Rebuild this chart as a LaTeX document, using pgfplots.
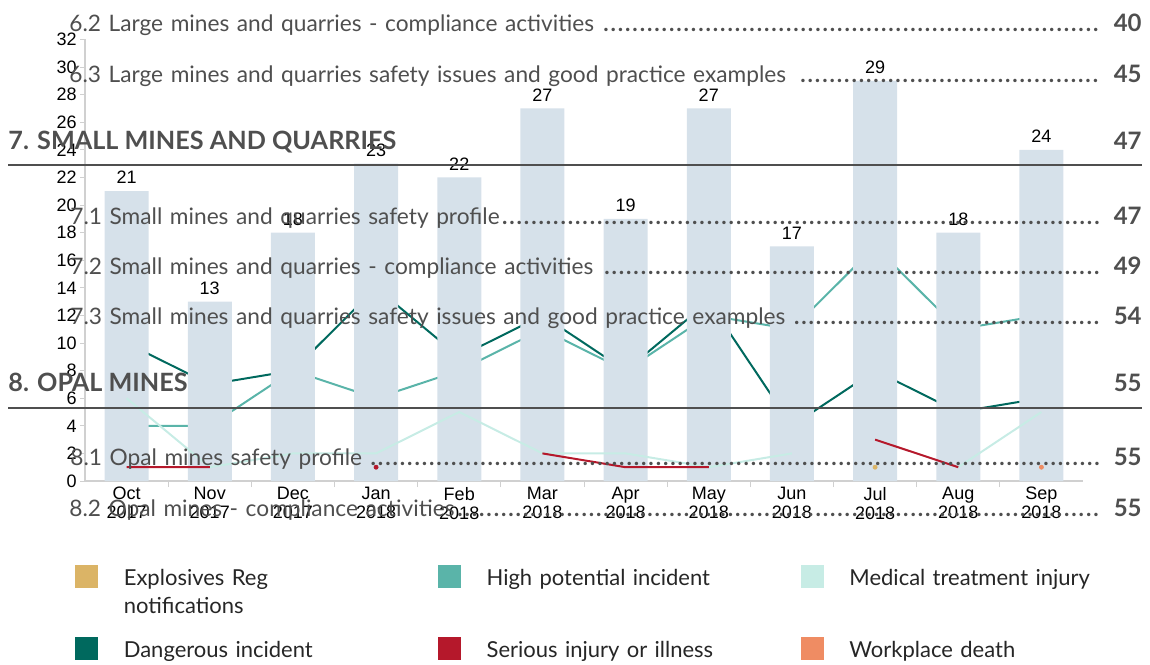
\documentclass[border=0pt]{standalone}
\usepackage{pgfplots}
\pgfplotsset{compat=1.18}
\usepackage{fontspec}
\setmainfont{Lato}
\newfontfamily\arial{Liberation Sans}
\definecolor{barc}{HTML}{D6E1EA}
\definecolor{dang}{HTML}{00695E}
\definecolor{highp}{HTML}{5AB4A9}
\definecolor{medic}{HTML}{C7ECE5}
\definecolor{serious}{HTML}{B5182B}
\definecolor{explo}{HTML}{DBB466}
\definecolor{death}{HTML}{EF8C63}
\definecolor{tocgray}{HTML}{4F4F4F}
\definecolor{axgray}{HTML}{D0D0D0}
\newcommand\dotleaders{\leaders\hbox to 3.65pt{\hss\bfseries.\hss}\hfill\mbox{}}
\newcommand\tocf{\fontsize{11.35}{14}\selectfont}
\newcommand\tocb{\fontsize{12}{14}\selectfont\bfseries}
\newcommand\tochead{\fontsize{12.6}{14}\selectfont\bfseries}
\newcommand\lblf{\arial\fontsize{9}{9.5}\selectfont}
\begin{document}
\begin{tikzpicture}
\path[use as bounding box] (0,0) rectangle (575pt,-332pt);
\begin{axis}[
  at={(42.5pt,-240.5pt)}, anchor=south west,
  scale only axis, width=499pt, height=220.8pt,
  xmin=-0.5, xmax=11.5, ymin=0, ymax=32,
  axis x line*=bottom, axis y line*=left,
  axis line style={-, draw=axgray, line width=0.6pt},
  /pgf/number format/assume math mode=true,
  ytick={0,2,...,32},
  xtick={0,...,11},
  xticklabels={{Oct\\2017},{Nov\\2017},{Dec\\2017},{Jan\\2018},{Feb\\2018},{Mar\\2018},{Apr\\2018},{May\\2018},{Jun\\2018},{Jul\\2018},{Aug\\2018},{Sep\\2018}},
  minor xtick={0.5,1.5,...,10.5},
  tick align=outside,
  major tick length=2.5pt, minor tick length=3pt,
  tick style={draw=axgray, line width=0.5pt},
  major x tick style={draw=none},
  xticklabel style={font=\lblf, align=center, text=black, inner sep=0pt, yshift=-0.5pt},
  yticklabel style={font=\lblf, text=black, inner sep=0pt, xshift=-1.5pt},
  unbounded coords=jump,
  legend columns=3,
  legend style={at={(axis description cs:-0.01,-0.19)}, anchor=north west,
    draw=none, fill=none, inner sep=0pt, outer sep=0pt, row sep=24.5pt,
    nodes={inner sep=0pt, text width=157pt, align=left, font=\fontsize{11}{14}\selectfont, text=black!85},
    cells={anchor=base west},
    /tikz/every odd column/.append style={column sep=13pt},
    /tikz/every even column/.append style={column sep=0pt}},
]
% lines drawn beneath the bars
\addplot[forget plot, dang, line width=1pt] coordinates {
 (0,10) (1,7) (2,8) (3,14) (4,9) (5,12) (6,8) (7,13) (8,4) (9,8) (10,5) (11,6)};
\addplot[forget plot, highp, line width=1pt] coordinates {
 (0,4) (1,4) (2,8) (3,6) (4,8) (5,11) (6,8) (7,12) (8,11) (9,17) (10,11) (11,12)};
% bars
\addplot[forget plot, ybar, bar width=22pt, fill=barc, draw=none,
  nodes near coords,
  nodes near coords style={font=\lblf, text=black, inner sep=0pt, anchor=south, yshift=3.5pt}]
 coordinates {(0,21) (1,13) (2,18) (3,23) (4,22) (5,27) (6,19) (7,27) (8,17) (9,29) (10,18) (11,24)};
% lines drawn over the bars
\addplot[forget plot, medic, line width=1pt] coordinates {
 (0,6) (1,1) (2,2) (3,2) (4,5) (5,2) (6,2) (7,1) (8,2) (9,nan) (10,1) (11,5)};
\addplot[forget plot, serious, line width=1pt] coordinates {
 (0,1) (1,1) (2,nan) (3,1) (4,nan) (5,2) (6,1) (7,1) (8,nan) (9,3) (10,1) (11,nan)};
\addplot[forget plot, only marks, mark=*, mark size=1pt, serious] coordinates {(3,1)};
\addplot[forget plot, only marks, mark=*, mark size=1pt, explo] coordinates {(9,1)};
\addplot[forget plot, only marks, mark=*, mark size=1pt, death] coordinates {(11,1)};
% legend
\addlegendimage{legend image code/.code={\fill[explo] (0pt,-1pt) rectangle (11pt,10pt);}}
\addlegendentry{Explosives Reg\newline notifications}
\addlegendimage{legend image code/.code={\fill[highp] (0pt,-1pt) rectangle (11pt,10pt);}}
\addlegendentry{High potential incident}
\addlegendimage{legend image code/.code={\fill[medic] (0pt,-1pt) rectangle (11pt,10pt);}}
\addlegendentry{Medical treatment injury}
\addlegendimage{legend image code/.code={\fill[dang] (0pt,-1pt) rectangle (11pt,10pt);}}
\addlegendentry{Dangerous incident}
\addlegendimage{legend image code/.code={\fill[serious] (0pt,-1pt) rectangle (11pt,10pt);}}
\addlegendentry{Serious injury or illness}
\addlegendimage{legend image code/.code={\fill[death] (0pt,-1pt) rectangle (11pt,10pt);}}
\addlegendentry{Workplace death}
\end{axis}
% overlaid table-of-contents text
\begin{scope}[x=0.5pt, y=-0.5pt, every node/.style={inner sep=0pt, text=tocgray}]
\node[anchor=base west, text width=517.5pt, font=\tocf] at (69,32) {6.2 Large mines and quarries - compliance activities \dotleaders};
\node[anchor=base east, font=\tocb] at (1142,32) {40};
\node[anchor=base west, text width=517.5pt, font=\tocf] at (69,82) {6.3 Large mines and quarries safety issues and good practice examples \dotleaders};
\node[anchor=base east, font=\tocb] at (1142,82) {45};
\node[anchor=base west, font=\tochead] at (8,149) {7. SMALL MINES AND QUARRIES};
\node[anchor=base east, font=\tocb] at (1142,149) {47};
\draw[tocgray, line width=0.75pt] (8,165) -- (1142,165);
\node[anchor=base west, text width=517.5pt, font=\tocf] at (70,224) {7.1 Small mines and quarries safety profile\dotleaders};
\node[anchor=base east, font=\tocb] at (1142,224) {47};
\node[anchor=base west, text width=517.5pt, font=\tocf] at (70,274) {7.2 Small mines and quarries - compliance activities \dotleaders};
\node[anchor=base east, font=\tocb] at (1142,274) {49};
\node[anchor=base west, text width=517.5pt, font=\tocf] at (70,324) {7.3 Small mines and quarries safety issues and good practice examples \dotleaders};
\node[anchor=base east, font=\tocb] at (1142,324) {54};
\node[anchor=base west, font=\tochead] at (8,391) {8. OPAL MINES};
\node[anchor=base east, font=\tocb] at (1142,391) {55};
\draw[tocgray, line width=0.75pt] (8,408) -- (1142,408);
\node[anchor=base west, text width=517.5pt, font=\tocf] at (70,465) {8.1 Opal mines safety profile \dotleaders};
\node[anchor=base east, font=\tocb] at (1142,465) {55};
\node[anchor=base west, text width=517.5pt, font=\tocf] at (69,516) {8.2 Opal mines - compliance activities\dotleaders};
\node[anchor=base east, font=\tocb] at (1142,516) {55};
\end{scope}
\end{tikzpicture}
\end{document}
